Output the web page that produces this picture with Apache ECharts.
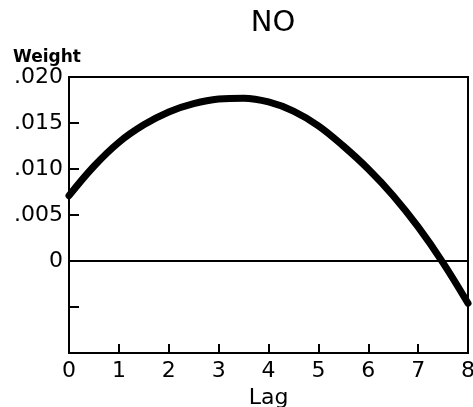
<!DOCTYPE html>
<html><head><meta charset="utf-8">
<script src="https://cdn.jsdelivr.net/npm/echarts@6/dist/echarts.min.js"></script>
<style>html,body{margin:0;padding:0;background:#fff}#c{width:473px;height:407px}</style>
</head><body><div id="c"></div>
<script>
var lags = [0,0.5,1,1.5,2,2.5,3,3.5,4,4.5,5,5.5,6,6.5,7,7.5,8];
var weights = [0.0071,0.0103,0.0129,0.0148,0.0162,0.0171,0.0176,0.0177,0.0173,0.0163,0.0147,0.0125,0.0100,0.0071,0.0037,-0.0002,-0.0046];
var yTickLabels = {"0.02":".020","0.015":".015","0.01":".010","0.005":".005","0":"0"};
var xTicks = [0,1,2,3,4,5,6,7,8];

var chart = echarts.init(document.getElementById('c'));
var font = 'DejaVu Sans';
chart.setOption({
  animation:false,
  title:{text:'NO',left:268,top:4,textAlign:'center',textStyle:{fontFamily:font,fontSize:29,fontWeight:'normal',color:'#000'}},
  grid:{left:69,right:5,top:77,bottom:54,show:true,borderColor:'#000',borderWidth:2,backgroundColor:'transparent',containLabel:false,outerBoundsMode:'none'},
  xAxis:{type:'value',min:0,max:8,interval:1,
    name:'Lag',nameLocation:'middle',nameGap:34,nameTextStyle:{fontFamily:font,fontSize:22,color:'#000'},
    axisLine:{show:true,onZero:false,lineStyle:{color:'#000',width:2}},
    axisTick:{show:true,inside:true,length:9,lineStyle:{color:'#000',width:2}},
    axisLabel:{fontFamily:font,fontSize:22,color:'#000',margin:7},
    splitLine:{show:false}},
  yAxis:{type:'value',min:-0.010,max:0.020,interval:0.005,
    name:'Weight',nameLocation:'end',nameGap:5,nameTextStyle:{fontFamily:font,fontSize:17,fontWeight:'bold',color:'#000',align:'right',padding:[0,-12,0,0]},
    axisLine:{show:true,lineStyle:{color:'#000',width:2}},
    axisTick:{show:true,inside:true,length:10,lineStyle:{color:'#000',width:2}},
    axisLabel:{fontFamily:font,fontSize:22,color:'#000',margin:6,
      formatter:function(v){var k=String(Math.round(v*1000)/1000);return yTickLabels[k]!==undefined?yTickLabels[k]:'';}},
    splitLine:{show:false}},
  series:[
    {type:'line',data:lags.map(function(x,i){return [x,weights[i]];}),smooth:0.4,showSymbol:false,
     lineStyle:{color:'#000',width:7,cap:'round'},
     markLine:{silent:true,symbol:'none',label:{show:false},lineStyle:{color:'#000',width:2,type:'solid'},data:[{yAxis:0}]}}
  ]
});
</script></body></html>
